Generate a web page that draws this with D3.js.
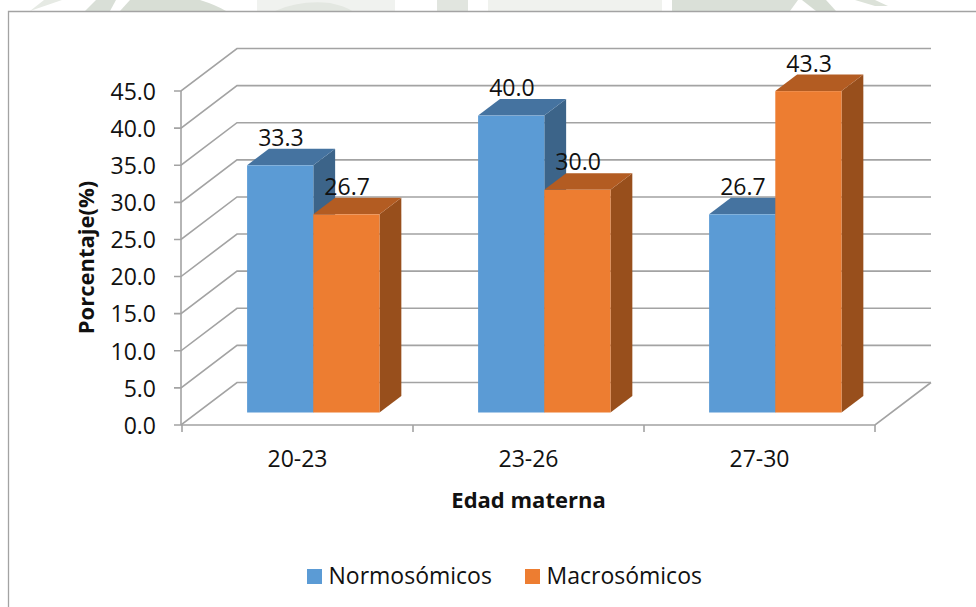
<!DOCTYPE html>
<html>
<head>
<meta charset="utf-8">
<script src="https://cdn.jsdelivr.net/npm/d3@7/dist/d3.min.js"></script>
<style>
  html, body { margin: 0; padding: 0; background: #fff; }
  svg { display: block; font-family: "Open Sans", Lato, sans-serif; fill: #111; }
</style>
</head>
<body>
<svg id="chart" width="976" height="607"></svg>
<script>
const categories = ["20-23", "23-26", "27-30"];
const seriesNames = ["Normosómicos", "Macrosómicos"];
const normosomicos = [33.3, 40.0, 26.7];
const macrosomicos = [26.7, 30.0, 43.3];
const yTicks = [0, 5, 10, 15, 20, 25, 30, 35, 40, 45];

const faces = [
  { front: "#5b9bd5", top: "#4573a0", side: "#3c6489" },
  { front: "#ed7d31", top: "#b35c22", side: "#984f1c" }
];
const gridColor = "#a3a3a3";

const svg = d3.select("#chart");

// Faint letterhead crest showing above the page frame
const crest = svg.append("g");
[
  { d: "M30,11 L62,0 H44 Z", c: "#e6eae4" },
  { d: "M85,11 L96,0 H116 L110,11 Z", c: "#d9dfd7" },
  { d: "M120,11 L130,0 H200 Q216,5 226,11 Z", c: "#d8ded5" },
  { d: "M257,11 V0 H395 V11 Z", c: "#f0f2ef" },
  { d: "M275,11 Q300,0 330,3 Q345,6 352,11 Z", c: "#e3e7e1" },
  { d: "M437,11 V0 H468 V11 Z", c: "#e1e5df" },
  { d: "M488,11 V0 H662 V11 Z", c: "#f0f2ee" },
  { d: "M672,11 V0 H798 L790,11 Z", c: "#dae0d8" },
  { d: "M802,0 H826 L836,11 H816 Z", c: "#d6ddd3" },
  { d: "M855,0 H875 L888,6 H875 Z", c: "#dce2d9" }
].forEach(s => crest.append("path").attr("d", s.d).attr("fill", s.c));

// White page behind the chart, with its frame
svg.append("rect").attr("x", 8.5).attr("y", 11.5).attr("width", 968).attr("height", 596).attr("fill", "#fff");
svg.append("path")
  .attr("d", "M8.5,607V11.5H976")
  .attr("fill", "none").attr("stroke", "#a3a3a3").attr("stroke-width", 1.3);

// Front plane of the 3D box
const y = d3.scaleLinear().domain([0, 45]).range([425, 91]);
const xOuter = d3.scaleBand().domain(categories).range([182, 875]);
const depthX = 56, depthY = 42.5;
const barStart = 0.294, barDepth = 0.39;
const project = (px, py, t) => [px + depthX * t, py - depthY * t];
const poly = pts => pts.map(p => p.join(",")).join(" ");

// Back wall gridlines with their slanted run to the vertical axis
const grid = svg.append("g").attr("fill", "none").attr("stroke", gridColor).attr("stroke-width", 1.6);
yTicks.forEach(t => {
  const a = project(181, y(t), 0), b = project(181, y(t), 1), c = project(875, y(t), 1);
  grid.append("polyline").attr("points", poly([[a[0] - 7, a[1]], a, b, c]));
});
// Floor edges and front axis lines
grid.append("polyline").attr("points", poly([project(875, y(0), 1), project(875, y(0), 0), project(181, y(0), 0)]));
grid.append("line").attr("x1", 181).attr("x2", 181).attr("y1", y(45)).attr("y2", y(0));
[...categories.map(c => xOuter(c)), xOuter.range()[1]].forEach(tx => {
  grid.append("line").attr("x1", tx).attr("x2", tx).attr("y1", y(0)).attr("y2", y(0) + 7);
});

// Bars are placed inside each category band, offset into the depth of the box
const barInset = 16.5;
const barWidth = 66.2;
const baseY = y(0) - depthY * barStart;
const heightScale = v => y(0) - y(v);

function drawBar(g, x0, value, face) {
  const w = barWidth, top = baseY - heightScale(value);
  const dx = depthX * barDepth, dy = depthY * barDepth;
  g.append("polygon").attr("fill", face.side)
    .attr("points", poly([[x0 + w, baseY], [x0 + w + dx, baseY - dy], [x0 + w + dx, top - dy], [x0 + w, top]]));
  g.append("polygon").attr("fill", face.top)
    .attr("points", poly([[x0, top], [x0 + dx, top - dy], [x0 + w + dx, top - dy], [x0 + w, top]]));
  g.append("rect").attr("fill", face.front)
    .attr("x", x0).attr("y", top).attr("width", w).attr("height", baseY - top);
}

const bars = svg.append("g");
const labels = [];
categories.forEach((cat, i) => {
  const center = xOuter(cat) + xOuter.bandwidth() / 2 + barInset;
  [normosomicos[i], macrosomicos[i]].forEach((v, s) => {
    const x0 = center - barWidth + s * barWidth - 0.7;
    drawBar(bars, x0, v, faces[s]);
    labels.push({ x: x0 + barWidth / 2, y: baseY - heightScale(v), v });
  });
});

// Value labels sit over the top face of each bar
svg.append("g").attr("font-size", 23).attr("text-anchor", "middle")
  .selectAll("text").data(labels).join("text")
  .attr("x", d => d.x + 0.7).attr("y", d => d.y - 19.5)
  .text(d => d.v.toFixed(1));

// Axis tick labels
svg.append("g").attr("font-size", 23).attr("text-anchor", "end")
  .selectAll("text").data(yTicks).join("text")
  .attr("x", 156).attr("y", d => y(d) + 8.8)
  .text(d => d.toFixed(1));

svg.append("g").attr("font-size", 23).attr("text-anchor", "middle")
  .selectAll("text").data(categories).join("text")
  .attr("x", d => xOuter(d) + xOuter.bandwidth() / 2)
  .attr("y", 466.5)
  .text(d => d);

// Axis titles
svg.append("text").attr("font-size", 22).attr("font-weight", 700).attr("text-anchor", "middle")
  .attr("x", 528.5).attr("y", 507.5).text("Edad materna");
svg.append("text").attr("font-size", 22).attr("font-weight", 700).attr("text-anchor", "middle")
  .attr("transform", "translate(94,257.5) rotate(-90)").text("Porcentaje(%)");

// Legend
const legendItems = [{ x: 307, label: seriesNames[0], c: faces[0].front }, { x: 525, label: seriesNames[1], c: faces[1].front }];
const legend = svg.append("g");
legendItems.forEach(it => {
  legend.append("rect").attr("x", it.x).attr("y", 569).attr("width", 15).attr("height", 15).attr("fill", it.c);
  legend.append("text").attr("x", it.x + 21.5).attr("y", 584).attr("font-size", 23).text(it.label);
});
</script>
</body>
</html>
